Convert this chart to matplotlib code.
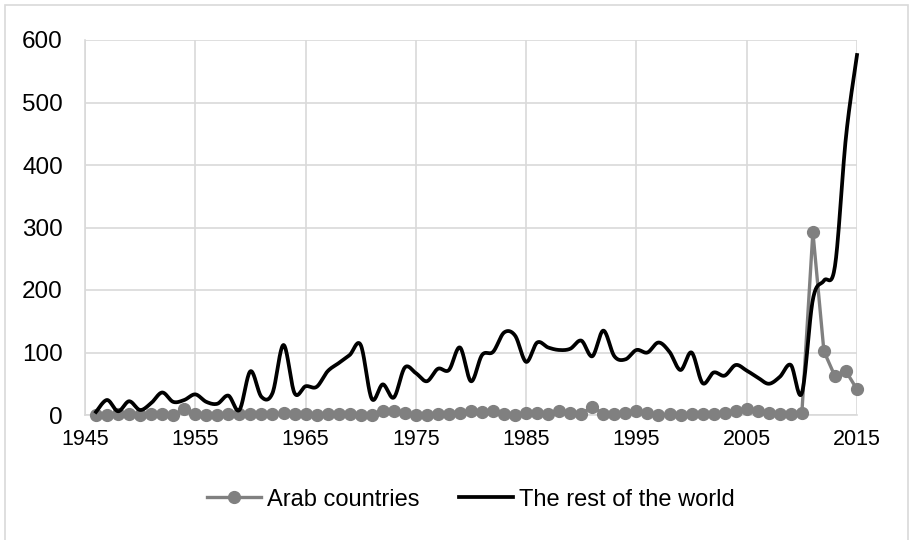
import numpy as np
import matplotlib
matplotlib.use("Agg")
import matplotlib.pyplot as plt
from matplotlib.patches import Rectangle

plt.rcParams['font.family'] = ['Liberation Sans', 'DejaVu Sans']

years = list(range(1946, 2016))

arab = [0, 0, 2, 1, 0, 1, 1, 0, 9, 1,
        0, 0, 1, 2, 2, 1, 2, 3, 2, 1,
        0, 2, 1, 1, 0, 0, 6, 6, 3, 0,
        0, 1, 2, 3, 6, 5, 6, 1, 0, 3,
        3, 1, 6, 4, 2, 13, 2, 1, 3, 6,
        4, 0, 1, 0, 2, 2, 2, 3, 6, 10,
        6, 3, 2, 2, 3, 293, 102, 62, 70, 41]

rest = [5, 24, 6, 22, 8, 19, 36, 21, 24, 33,
        21, 18, 31, 8, 70, 29, 35, 112, 35, 46,
        45, 70, 83, 96, 112, 26, 49, 28, 76, 67,
        54, 74, 72, 108, 54, 96, 101, 132, 127, 85,
        116, 108, 104, 106, 119, 94, 135, 94, 89, 104,
        100, 116, 101, 72, 100, 51, 68, 63, 80, 71,
        60, 50, 61, 80, 35, 185, 215, 238, 445, 576]

xticks = list(range(1945, 2016, 10))
yticks = list(range(0, 601, 100))

grey = "#808080"
grid_c = "#d9d9d9"


def smooth(x, y, n=20, tension=0.5):
    # catmull-rom style curve, like the "smoothed line" option in excel
    x = np.asarray(x, float)
    y = np.asarray(y, float)
    px = np.concatenate([[x[0]], x, [x[-1]]])
    py = np.concatenate([[y[0]], y, [y[-1]]])
    xs, ys = [], []
    t = np.linspace(0, 1, n, endpoint=False)
    for i in range(1, len(px) - 2):
        p0x, p1x, p2x, p3x = px[i - 1], px[i], px[i + 1], px[i + 2]
        p0y, p1y, p2y, p3y = py[i - 1], py[i], py[i + 1], py[i + 2]
        m1x, m2x = tension * (p2x - p0x), tension * (p3x - p1x)
        m1y, m2y = tension * (p2y - p0y), tension * (p3y - p1y)
        h00 = 2 * t**3 - 3 * t**2 + 1
        h10 = t**3 - 2 * t**2 + t
        h01 = -2 * t**3 + 3 * t**2
        h11 = t**3 - t**2
        xs.append(h00 * p1x + h10 * m1x + h01 * p2x + h11 * m2x)
        ys.append(h00 * p1y + h10 * m1y + h01 * p2y + h11 * m2y)
    xs.append([x[-1]])
    ys.append([y[-1]])
    return np.concatenate(xs), np.concatenate(ys)


fig = plt.figure(figsize=(9.16, 5.40), dpi=100)
ax = fig.add_axes([85 / 916, 1 - 415 / 540, 772 / 916, 375 / 540])

fig.patches.append(Rectangle((5 / 916, -0.01), 903 / 916, 1 - 5 / 540 + 0.01,
                             transform=fig.transFigure, fill=False,
                             edgecolor=grid_c, linewidth=1.2))

ax.plot(years, arab, color=grey, linewidth=2.4, marker="o", markersize=8.5,
        label="Arab countries", zorder=3, clip_on=False)
sx, sy = smooth(years, rest)
ax.plot(sx, sy, color="black", linewidth=2.7, label="The rest of the world",
        zorder=4, clip_on=False)

ax.set_xlim(1945, 2015)
ax.set_ylim(0, 600)
ax.set_xticks(xticks)
ax.set_yticks(yticks)
ax.grid(True, color=grid_c, linewidth=1.2)
ax.set_axisbelow(True)
for s in ["top", "right"]:
    ax.spines[s].set_visible(False)
for s in ["left", "bottom"]:
    ax.spines[s].set_color(grid_c)
    ax.spines[s].set_linewidth(1.2)
ax.tick_params(axis="both", length=0, colors="black")
ax.tick_params(axis="y", labelsize=17.5, pad=16)
ax.tick_params(axis="x", labelsize=15.5, pad=10)

ax.legend(loc="upper center", bbox_to_anchor=(0.5, -0.14), ncol=2, frameon=False,
          fontsize=17, handlelength=2.3, columnspacing=1.65, handletextpad=0.25)

fig.savefig("out.png", dpi=100)
